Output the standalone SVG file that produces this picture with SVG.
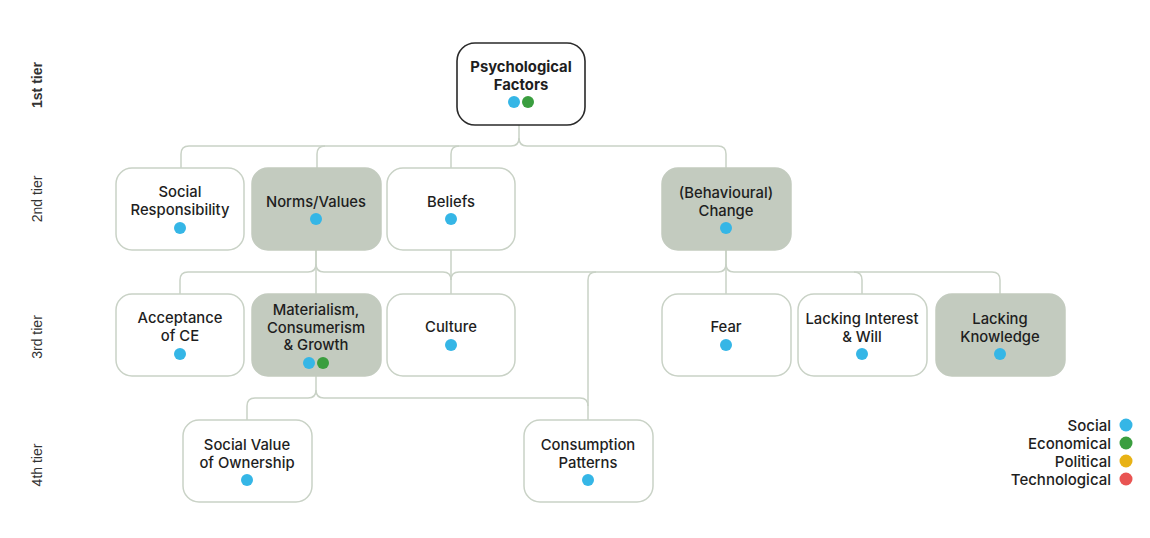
<svg xmlns="http://www.w3.org/2000/svg" width="1150" height="538" viewBox="0 0 1150 538">
<style>
.box{fill:#ffffff;stroke:#c9d2c6;stroke-width:1.5}
.fill{fill:#c3cbbf;stroke:#c3cbbf;stroke-width:1.5}
.root{fill:#ffffff;stroke:#2a2a2a;stroke-width:1.6}
.t{font-family:Inter,"Liberation Sans",sans-serif;font-size:14.8px;font-weight:500;fill:#1e1e1e;text-anchor:middle;dominant-baseline:central}
.tb{font-weight:bold}
.tier{font-family:"Liberation Sans",Arial,sans-serif;font-size:14px;fill:#333;text-anchor:middle;dominant-baseline:central}
.lg{font-family:Inter,"Liberation Sans",sans-serif;font-size:15px;font-weight:500;fill:#1e1e1e;text-anchor:end;dominant-baseline:central}
.con{fill:none;stroke:#c9d2c6;stroke-width:1.5}
.s{fill:#35b6e6}.e{fill:#3a9e3f}.p{fill:#e8b215}.x{fill:#e95452}
</style>
<rect width="1150" height="538" fill="#ffffff"/>
<g id="tiers">
<text class="tier tb" transform="translate(37,85) rotate(-90)">1st tier</text>
<text class="tier" transform="translate(37,199) rotate(-90)">2nd tier</text>
<text class="tier" transform="translate(37,337) rotate(-90)">3rd tier</text>
<text class="tier" transform="translate(37,465) rotate(-90)">4th tier</text>
</g>
<g id="connectors">
<path class="con" d="M519,125 V138 Q519,146 511,146 H189 Q181,146 181,154 V168"/>
<path class="con" d="M519,138 Q519,146 527,146 H718 Q726,146 726,154 V168"/>
<path class="con" d="M325,146 Q317,146 317,154 V168"/>
<path class="con" d="M459,146 Q451,146 451,154 V168"/>
<path class="con" d="M316,250 V264 Q316,272 308,272 H188 Q180,272 180,280 V294"/>
<path class="con" d="M316,264 Q316,272 324,272 H443 Q451,272 451,280"/>
<path class="con" d="M316,250 V294"/>
<path class="con" d="M451,250 V294"/>
<path class="con" d="M726,250 V264 Q726,272 718,272 H459 Q451,272 451,280"/>
<path class="con" d="M726,264 Q726,272 734,272 H992 Q1000,272 1000,280 V294"/>
<path class="con" d="M726,250 V294"/>
<path class="con" d="M596,272 Q588,272 588,280 V420"/>
<path class="con" d="M854,272 Q862,272 862,280 V294"/>
<path class="con" d="M316,376 V390 Q316,398 308,398 H255 Q247,398 247,406 V420"/>
<path class="con" d="M316,390 Q316,398 324,398 H580 Q588,398 588,406"/>
</g>
<g id="psychological-factors">
<rect class="root" x="457" y="43" width="128" height="82" rx="18"/>
<text class="t tb" x="521" y="67">Psychological</text>
<text class="t tb" x="521" y="85">Factors</text>
<circle class="s" cx="514" cy="102" r="6"/><circle class="e" cx="528" cy="102" r="6"/>
</g>
<g id="social-responsibility">
<rect class="box" x="116" y="168" width="128" height="82" rx="16"/>
<text class="t" x="180" y="192">Social</text>
<text class="t" x="180" y="210">Responsibility</text>
<circle class="s" cx="180" cy="228" r="6"/>
</g>
<g id="norms-values">
<rect class="fill" x="252" y="168" width="129" height="82" rx="16"/>
<text class="t" x="316" y="202">Norms/Values</text>
<circle class="s" cx="316" cy="219" r="6"/>
</g>
<g id="beliefs">
<rect class="box" x="387" y="168" width="128" height="82" rx="16"/>
<text class="t" x="451" y="202">Beliefs</text>
<circle class="s" cx="451" cy="219" r="6"/>
</g>
<g id="behavioural-change">
<rect class="fill" x="662" y="168" width="129" height="82" rx="16"/>
<text class="t" x="726" y="193">(Behavioural)</text>
<text class="t" x="726" y="211">Change</text>
<circle class="s" cx="726" cy="228" r="6"/>
</g>
<g id="acceptance-of-ce">
<rect class="box" x="116" y="294" width="128" height="82" rx="16"/>
<text class="t" x="180" y="318">Acceptance</text>
<text class="t" x="180" y="336">of CE</text>
<circle class="s" cx="180" cy="354" r="6"/>
</g>
<g id="materialism">
<rect class="fill" x="252" y="294" width="129" height="82" rx="16"/>
<text class="t" x="316" y="310">Materialism,</text>
<text class="t" x="316" y="328">Consumerism</text>
<text class="t" x="316" y="345">&amp; Growth</text>
<circle class="s" cx="309" cy="363" r="6"/><circle class="e" cx="323" cy="363" r="6"/>
</g>
<g id="culture">
<rect class="box" x="387" y="294" width="128" height="82" rx="16"/>
<text class="t" x="451" y="327">Culture</text>
<circle class="s" cx="451" cy="345" r="6"/>
</g>
<g id="fear">
<rect class="box" x="662" y="294" width="129" height="82" rx="16"/>
<text class="t" x="726" y="327">Fear</text>
<circle class="s" cx="726" cy="345" r="6"/>
</g>
<g id="lacking-interest">
<rect class="box" x="798" y="294" width="129" height="82" rx="16"/>
<text class="t" x="862" y="319">Lacking Interest</text>
<text class="t" x="862" y="337">&amp; Will</text>
<circle class="s" cx="862" cy="354" r="6"/>
</g>
<g id="lacking-knowledge">
<rect class="fill" x="936" y="294" width="129" height="82" rx="16"/>
<text class="t" x="1000" y="319">Lacking</text>
<text class="t" x="1000" y="337">Knowledge</text>
<circle class="s" cx="1000" cy="354" r="6"/>
</g>
<g id="social-value-of-ownership">
<rect class="box" x="183" y="420" width="129" height="82" rx="16"/>
<text class="t" x="247" y="445">Social Value</text>
<text class="t" x="247" y="463">of Ownership</text>
<circle class="s" cx="247" cy="480" r="6"/>
</g>
<g id="consumption-patterns">
<rect class="box" x="524" y="420" width="129" height="82" rx="16"/>
<text class="t" x="588" y="445">Consumption</text>
<text class="t" x="588" y="463">Patterns</text>
<circle class="s" cx="588" cy="480" r="6"/>
</g>
<g id="legend">
<text class="lg" x="1111" y="425">Social</text><circle class="s" cx="1126" cy="425" r="6.5"/>
<text class="lg" x="1111" y="443">Economical</text><circle class="e" cx="1126" cy="443" r="6.5"/>
<text class="lg" x="1111" y="461">Political</text><circle class="p" cx="1126" cy="461" r="6.5"/>
<text class="lg" x="1111" y="479">Technological</text><circle class="x" cx="1126" cy="479" r="6.5"/>
</g>
</svg>
